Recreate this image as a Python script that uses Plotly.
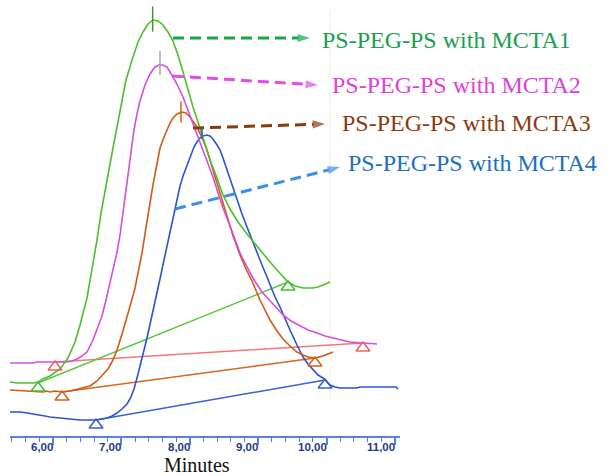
import plotly.graph_objects as go

# ---------------- data (retention time in minutes, detector signal in a.u.) ----------------
t_mcta1 = [5.371, 5.474, 5.708, 5.781, 5.854, 5.956, 6.102, 6.219, 6.322, 6.395, 6.497, 6.585, 6.643,
           6.702, 6.746, 6.804, 6.877, 6.980, 7.067, 7.170, 7.243, 7.316, 7.389, 7.462, 7.535, 7.608,
           7.681, 7.754, 7.827, 7.901, 7.974, 8.047, 8.120, 8.193, 8.295, 8.398, 8.485, 8.588, 8.705,
           8.836, 8.953, 9.070, 9.173, 9.275, 9.363, 9.436, 9.538, 9.655, 9.801, 9.874, 9.947, 10.050]
y_mcta1 = [54, 53, 53, 54, 57, 60, 67, 78, 94, 111, 138, 171, 196,
           223, 241, 261, 288, 326, 356, 379, 394, 404, 412, 416, 415, 411,
           404, 395, 381, 364, 346, 329, 314, 299, 276, 258, 241, 227, 214,
           202, 192, 183, 174, 166, 159, 154, 150, 148, 148, 149, 151, 154]

t_mcta2 = [5.371, 5.708, 5.766, 6.000, 6.205, 6.278, 6.351, 6.424, 6.497, 6.585, 6.643, 6.716, 6.775,
           6.833, 6.892, 6.936, 6.980, 7.009, 7.053, 7.096, 7.140, 7.184, 7.228, 7.272, 7.345, 7.418,
           7.491, 7.550, 7.608, 7.667, 7.754, 7.827, 7.901, 7.974, 8.047, 8.120, 8.193, 8.266, 8.339,
           8.412, 8.485, 8.588, 8.690, 8.734, 8.836, 8.939, 9.056, 9.173, 9.275, 9.363, 9.480, 9.611,
           9.728, 9.860, 9.977, 10.094, 10.211, 10.342, 10.532, 10.737]
y_mcta2 = [73, 73, 74, 74, 74, 75, 77, 80, 84, 96, 106, 120, 136,
           153, 170, 184, 201, 216, 238, 258, 281, 306, 322, 335, 351, 362,
           369, 371, 371, 369, 359, 350, 339, 326, 313, 300, 286, 273, 259,
           243, 228, 210, 192, 183, 169, 156, 144, 135, 127, 121, 115, 110,
           106, 103, 100, 98, 96, 94, 93, 92]

t_mcta3 = [5.371, 5.591, 5.708, 5.854, 5.912, 5.956, 6.029, 6.132, 6.249, 6.365, 6.439, 6.541, 6.643,
           6.731, 6.804, 6.877, 6.936, 7.009, 7.082, 7.140, 7.199, 7.243, 7.301, 7.345, 7.374, 7.418,
           7.462, 7.506, 7.564, 7.623, 7.667, 7.711, 7.754, 7.813, 7.886, 7.944, 8.003, 8.061, 8.105,
           8.193, 8.251, 8.339, 8.442, 8.544, 8.632, 8.734, 8.822, 8.909, 9.026, 9.173, 9.275, 9.363,
           9.465, 9.567, 9.655, 9.728, 9.830, 9.904, 9.947, 10.020, 10.094]
y_mcta3 = [46, 45, 45, 44, 45, 44, 45, 44, 45, 47, 48, 50, 55,
           61, 67, 76, 86, 102, 118, 133, 148, 163, 183, 202, 216, 233,
           251, 266, 288, 299, 307, 313, 318, 322, 324, 323, 319, 314, 309,
           296, 286, 266, 244, 220, 200, 181, 167, 155, 136, 116, 105, 97,
           90, 84, 81, 79, 78, 79, 80, 82, 84]

t_mcta4 = [5.371, 5.518, 5.620, 5.737, 5.810, 5.883, 5.956, 6.073, 6.205, 6.322, 6.395, 6.541, 6.629,
           6.716, 6.789, 6.863, 6.936, 7.009, 7.082, 7.140, 7.184, 7.228, 7.272, 7.316, 7.374, 7.418,
           7.462, 7.520, 7.564, 7.623, 7.667, 7.711, 7.754, 7.813, 7.857, 7.901, 7.959, 8.003, 8.061,
           8.105, 8.149, 8.193, 8.251, 8.295, 8.339, 8.398, 8.442, 8.485, 8.544, 8.617, 8.690, 8.763,
           8.836, 8.909, 8.982, 9.056, 9.129, 9.187, 9.246, 9.319, 9.392, 9.465, 9.567, 9.655, 9.728,
           9.801, 9.874, 9.947, 10.006, 10.050, 10.123, 10.196, 10.342, 10.444, 10.488, 10.518, 10.708,
           10.927, 11.015, 11.044]
y_mcta4 = [24, 24, 23, 22, 21, 20, 19, 18, 17, 16, 16, 16, 16,
           17, 18, 20, 23, 27, 32, 39, 47, 58, 69, 82, 98, 111,
           124, 143, 157, 176, 190, 204, 220, 238, 250, 260, 271, 279, 289,
           294, 298, 300, 301, 300, 297, 291, 286, 278, 266, 251, 236, 222,
           209, 196, 183, 171, 159, 149, 139, 129, 117, 106, 91, 79, 72,
           66, 61, 58, 54, 51, 49, 48, 48, 48, 49, 49, 49,
           49, 49, 47]

# integration baselines: [start, end]
base_t = {"MCTA1": [5.781, 9.436], "MCTA2": [6.029, 10.532], "MCTA3": [6.132, 9.830], "MCTA4": [6.629, 9.977]}
base_y = {"MCTA1": [53, 154], "MCTA2": [74, 93], "MCTA3": [44, 78], "MCTA4": [16, 56]}

# apex markers
apex_t = {"MCTA1": 7.457, "MCTA2": 7.564, "MCTA3": 7.871, "MCTA4": 8.178}
apex_y = {"MCTA1": 417, "MCTA2": 373, "MCTA3": 324, "MCTA4": 303}

# pointer arrows (start -> tip)
arrow_t = {"MCTA1": [7.754, 9.757], "MCTA2": [7.754, 9.874], "MCTA3": [8.047, 9.977], "MCTA4": [7.784, 10.196]}
arrow_y = {"MCTA1": [398, 398], "MCTA2": [360, 351], "MCTA3": [308, 312], "MCTA4": [227, 269]}

labels = {"MCTA1": "PS-PEG-PS with MCTA1", "MCTA2": "PS-PEG-PS with MCTA2",
          "MCTA3": "PS-PEG-PS with MCTA3", "MCTA4": "PS-PEG-PS with MCTA4"}
label_pos = {"MCTA1": (9.904, 396), "MCTA2": (10.050, 351), "MCTA3": (10.196, 313), "MCTA4": (10.284, 273)}

tick_vals = [6, 7, 8, 9, 10, 11]
tick_text = ["6,00", "7,00", "8,00", "9,00", "10,00", "11,00"]

# ---------------- styles ----------------
curve_col = {"MCTA1": "#4cc02a", "MCTA2": "#d54ee0", "MCTA3": "#d25a14", "MCTA4": "#2a55d0"}
base_col = {"MCTA1": "#5cc83c", "MCTA2": "#f27878", "MCTA3": "#d8661e", "MCTA4": "#3a60d4"}
tri_col = {"MCTA1": "#44c030", "MCTA2": "#f06464", "MCTA3": "#d8601e", "MCTA4": "#3a5fd4"}
apex_col = {"MCTA1": "#3c9a20", "MCTA2": "#b0a4b0", "MCTA3": "#d8601e", "MCTA4": "#2a55d0"}
apex_len = {"MCTA1": 18, "MCTA2": 17, "MCTA3": 15, "MCTA4": 8}
arrow_col = {"MCTA1": "#14a84a", "MCTA2": "#e24ce8", "MCTA3": "#8a3a0c", "MCTA4": "#3a90e8"}
text_col = {"MCTA1": "#18a050", "MCTA2": "#e040e0", "MCTA3": "#8b3a10", "MCTA4": "#1a6fc0"}

series = {"MCTA1": (t_mcta1, y_mcta1), "MCTA2": (t_mcta2, y_mcta2),
          "MCTA3": (t_mcta3, y_mcta3), "MCTA4": (t_mcta4, y_mcta4)}

fig = go.Figure()

for k in ["MCTA4", "MCTA3", "MCTA2", "MCTA1"]:
    fig.add_trace(go.Scatter(x=base_t[k], y=base_y[k], mode="lines",
                             line=dict(color=base_col[k], width=1.5), hoverinfo="skip"))

for k in ["MCTA4", "MCTA3", "MCTA2", "MCTA1"]:
    tx, ty = series[k]
    fig.add_trace(go.Scatter(x=tx, y=ty, mode="lines", line=dict(color=curve_col[k], width=1.6),
                             name=labels[k]))

for k in ["MCTA1", "MCTA2", "MCTA3", "MCTA4"]:
    # triangle markers below baseline start / end points
    fig.add_trace(go.Scatter(x=base_t[k], y=[v - 5 for v in base_y[k]], mode="markers",
                             marker=dict(symbol="triangle-up-open", size=12, color=tri_col[k],
                                         line=dict(color=tri_col[k], width=1.6)),
                             hoverinfo="skip", cliponaxis=False))
    # apex tick
    fig.add_trace(go.Scatter(x=[apex_t[k]], y=[apex_y[k]], mode="markers",
                             marker=dict(symbol="line-ns", size=apex_len[k], color=apex_col[k],
                                         line=dict(color=apex_col[k], width=1.5)),
                             hoverinfo="skip"))
    # dashed pointer arrow
    fig.add_trace(go.Scatter(x=arrow_t[k], y=arrow_y[k], mode="lines+markers",
                             line=dict(color=arrow_col[k], width=3, dash="11px,6px"),
                             marker=dict(symbol="arrow", size=[0, 13], angleref="previous",
                                         color=arrow_col[k], line=dict(width=0)),
                             hoverinfo="skip", cliponaxis=False))

annotations = []
for k in ["MCTA1", "MCTA2", "MCTA3", "MCTA4"]:
    lx, ly = label_pos[k]
    annotations.append(dict(x=lx, y=ly, xref="x", yref="y", text=labels[k], showarrow=False,
                            xanchor="left", yanchor="middle",
                            font=dict(family="Liberation Serif, Times New Roman, serif", size=24,
                                      color=text_col[k])))
for v, s in zip(tick_vals, tick_text):
    annotations.append(dict(x=v, y=0, xref="x", yref="paper", text="<b>" + s + "</b>", showarrow=False,
                            xanchor="right", yanchor="middle", yshift=-11, xshift=1, borderpad=0,
                            font=dict(family="Liberation Sans, Arial, sans-serif", size=11.5,
                                      color="#1e3a8a")))
annotations.append(dict(x=0.4795, y=0, xref="paper", yref="paper", text="Minutes", showarrow=False,
                        xanchor="center", yanchor="middle", yshift=-29, borderpad=0,
                        font=dict(family="Liberation Serif, Times New Roman, serif", size=20,
                                  color="#111111")))

fig.update_layout(
    width=616, height=476,
    margin=dict(l=10, r=216, t=0, b=40),
    paper_bgcolor="white", plot_bgcolor="white",
    showlegend=False,
    annotations=annotations,
    shapes=[dict(type="line", xref="x", yref="y", x0=10.05, x1=10.05, y0=36, y1=426,
                 line=dict(color="#eef3dc", width=1), layer="below")],
    xaxis=dict(range=[5.3713, 11.0731], showgrid=False, zeroline=False,
               showline=True, linecolor="#5a80e0", linewidth=1.5,
               ticks="outside", tick0=6, dtick=1, ticklen=7, tickwidth=1.5, tickcolor="#5a80e0",
               showticklabels=False,
               minor=dict(ticks="outside", dtick=0.2, tick0=6, ticklen=4, tickwidth=1.3,
                          tickcolor="#5a80e0", showgrid=False)),
    yaxis=dict(range=[0, 436], visible=False, showgrid=False, zeroline=False),
)

fig.write_html("out.html")
